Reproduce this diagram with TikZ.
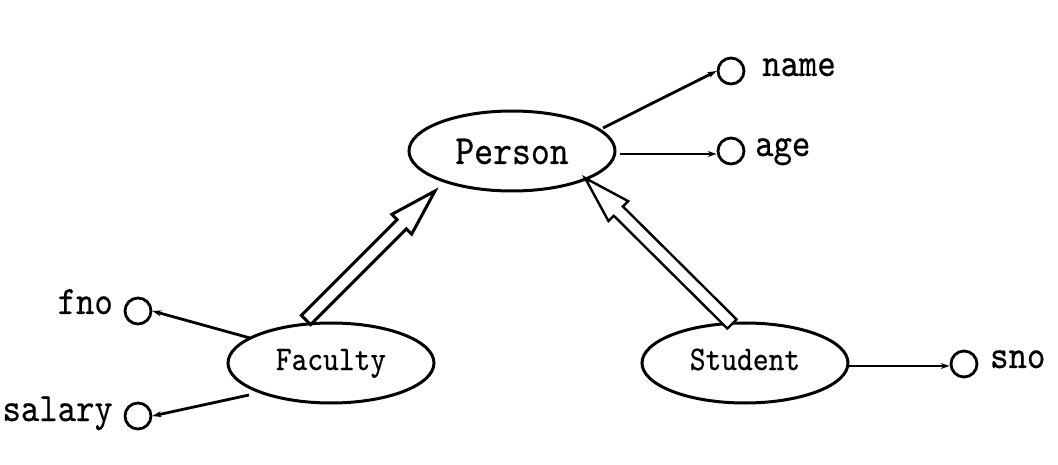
\documentclass[tikz,border=0pt]{standalone}
\usepackage{fontspec}
\usetikzlibrary{arrows.meta,calc,shapes.geometric}
\newfontfamily\simf{lmmono10-regular.otf}[FakeBold=0.5]
\newcommand{\tall}[1]{\scalebox{1}[1.15]{#1}}
\begin{document}
\begin{tikzpicture}[x=1pt,y=1pt,
  ent/.style={draw,line width=3pt,ellipse,minimum width=206pt,minimum height=80pt,inner sep=0pt},
  attr/.style={draw,line width=2.8pt,circle,minimum size=26pt,inner sep=0pt},
  lbl/.style={font=\simf\fontsize{35}{40}\selectfont,inner sep=0pt},
  conn/.style={line width=2.8pt,-{Stealth[length=9pt,width=6pt]}},
  bigarr/.style={draw,line width=3pt,fill=white,line join=miter}]
\useasboundingbox (0,0) rectangle (1058,464);
\node[ent] (per) at (512,313) {};
\node[ent] (fac) at (331,101) {};
\node[ent] (stu) at (745,101) {};
\node[font=\simf\fontsize{36}{40}\selectfont,inner sep=0pt,anchor=base] (pert) at (512,300) {\tall{Person}};
\node[font=\simf\fontsize{30}{34}\selectfont,inner sep=0pt,anchor=base] (fact) at (331,94) {\tall{Faculty}};
\node[font=\simf\fontsize{30}{34}\selectfont,inner sep=0pt,anchor=base] (stut) at (745,94) {\tall{Student}};
\node[attr] (name) at (731,393) {};
\node[attr] (age) at (731,313) {};
\node[attr] (fno) at (138,153) {};
\node[attr] (sal) at (138,48) {};
\node[attr] (sno) at (964,100) {};
\node[lbl,anchor=base west] (namet) at (762,388) {\tall{name}};
\node[lbl,anchor=base west] (aget) at (755,308) {\tall{age}};
\node[lbl,anchor=base east] (fnot) at (113,150) {\tall{fno}};
\node[lbl,anchor=base east] (salt) at (113,43) {\tall{salary}};
\node[lbl,anchor=base west] (snot) at (990,96) {\tall{sno}};
% attribute connectors
\coordinate (p1) at (603,336);
\coordinate (p2) at (620,310);
\coordinate (f1) at (250,126);
\coordinate (f2) at (249,69);
\coordinate (s1) at (849,98);
\draw[conn] (p1) -- (name.west);
\draw[conn] (p2) -- (p2 -| age.west);
\draw[conn] (f1) -- (fno.east);
\draw[conn] (f2) -- (sal.east);
\draw[conn] (s1) -- (s1 -| sno.west);
% hollow inheritance arrows
\coordinate (fb) at (306,144);
\coordinate (ft) at (435,273);
\coordinate (sb) at (732,140);
\coordinate (st) at (585,286);
\foreach \a/\b/\w in {fb/ft/3pt,sb/st/2.4pt}{
\path[bigarr,line width=\w] let \p1=(\a), \p2=(\b), \n1={atan2(\y2-\y1,\x2-\x1)}, \n2={veclen(\x2-\x1,\y2-\y1)} in
  ($(\p1)+(\n1+90:6.5)$) -- ($(\p1)+(\n1:\n2-47)+(\n1+90:6.5)$) -- ($(\p1)+(\n1:\n2-47)+(\n1+90:14)$)
  -- (\p2) -- ($(\p1)+(\n1:\n2-47)+(\n1-90:14)$) -- ($(\p1)+(\n1:\n2-47)+(\n1-90:6.5)$)
  -- ($(\p1)+(\n1-90:6.5)$) -- cycle;
}
\end{tikzpicture}
\end{document}
